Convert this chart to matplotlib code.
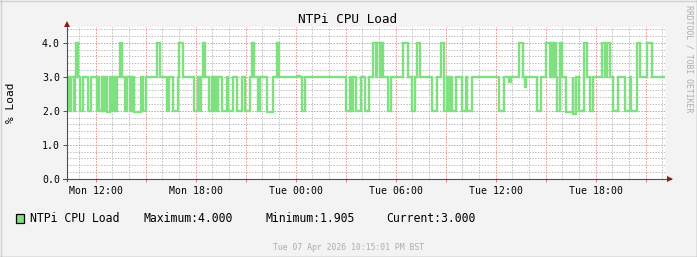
import matplotlib
matplotlib.use("Agg")
import matplotlib.pyplot as plt
from matplotlib.lines import Line2D
from matplotlib.patches import Rectangle

# ---------------- data (hours since Mon 00:00) ----------------
x_start = 10.28          # Mon 10:17
x_end = 46.16            # Tue 22:10
baseline_load = 3.0

event_start = [10.29, 10.46, 10.70, 10.79, 11.08, 11.54, 12.06, 12.20, 12.44, 12.68,
               12.98, 13.16, 13.43, 13.78, 14.06, 14.30, 14.84, 15.68, 16.28, 16.64,
               17.00, 17.90, 18.20, 18.44, 18.80, 19.04, 19.28, 19.58, 19.94, 20.48,
               20.96, 21.38, 21.74, 22.28, 22.88, 24.08, 24.38, 27.02, 27.32, 27.62,
               28.16, 28.64, 28.90, 29.10, 29.54, 30.44, 30.98, 31.28, 32.18, 32.72,
               32.90, 33.14, 33.38, 33.98, 34.28, 36.20, 36.80, 37.40, 37.76, 38.48,
               39.02, 39.32, 39.50, 39.68, 39.86, 40.22, 40.64, 41.00, 41.32, 41.66,
               42.38, 42.68, 43.04, 43.76, 44.12, 44.48, 45.08]
event_end = [10.34, 10.54, 10.78, 10.94, 11.22, 11.74, 12.14, 12.38, 12.56, 12.86,
             13.10, 13.28, 13.58, 13.88, 14.18, 14.72, 15.02, 15.86, 16.40, 16.94,
             17.24, 18.14, 18.32, 18.56, 18.98, 19.16, 19.34, 19.88, 20.24, 20.78,
             21.26, 21.50, 21.86, 22.64, 23.00, 24.26, 24.56, 27.26, 27.44, 27.92,
             28.40, 28.84, 29.04, 29.24, 29.72, 30.74, 31.16, 31.46, 32.48, 32.90,
             33.08, 33.26, 33.62, 34.22, 34.58, 36.50, 36.92, 37.64, 37.82, 38.72,
             39.26, 39.44, 39.64, 39.86, 39.98, 40.64, 40.82, 41.30, 41.48, 41.84,
             42.56, 42.86, 43.34, 44.06, 44.48, 44.66, 45.38]
event_value = [2.0, 2.0, 2.0, 4.0, 2.0, 2.0, 2.0, 2.0, 2.0, 1.97,
               2.0, 2.0, 4.0, 2.0, 2.0, 1.97, 2.0, 4.0, 2.0, 2.0,
               4.0, 2.0, 2.0, 4.0, 2.0, 2.0, 2.0, 2.0, 2.0, 2.0,
               2.0, 4.0, 2.0, 1.97, 4.0, 3.02, 2.0, 2.0, 2.0, 2.0,
               2.0, 4.0, 4.0, 4.0, 2.0, 4.0, 2.0, 4.0, 2.0, 4.0,
               2.0, 2.0, 2.0, 2.0, 2.0, 2.0, 2.85, 4.0, 2.7, 2.0,
               4.0, 4.0, 4.0, 2.0, 4.0, 1.95, 1.905, 2.0, 4.0, 2.0,
               4.0, 4.0, 2.0, 2.0, 2.0, 4.0, 4.0]

xtick_hours = [12, 18, 24, 30, 36, 42]
xtick_labels = ["Mon 12:00", "Mon 18:00", "Tue 00:00", "Tue 06:00", "Tue 12:00", "Tue 18:00"]
ytick_values = [0, 1, 2, 3, 4]
ytick_labels = ["0.0", "1.0", "2.0", "3.0", "4.0"]

series_name = "NTPi CPU Load"
stat_maximum = 4.000
stat_minimum = 1.905
stat_current = 3.000

# ---------------- build series ----------------
times = [x_start]
values = [baseline_load]
for s, e, v in zip(event_start, event_end, event_value):
    times += [s, e]
    values += [v, baseline_load]
times.append(x_end)
values.append(baseline_load)

# ---------------- figure ----------------
W, H = 697, 257
MONO = "DejaVu Sans Mono"
fig = plt.figure(figsize=(W / 100, H / 100), dpi=100)
fig.patch.set_facecolor("#F3F3F3")

ax_left, ax_right = 67, 665
ax_bottom_px, ax_top_px = 178.7, 27.4
ax = fig.add_axes([ax_left / W, 1 - ax_bottom_px / H,
                   (ax_right - ax_left) / W, (ax_bottom_px - ax_top_px) / H])
ax.set_facecolor("white")
ax.set_xlim(x_start, x_end)
ax.set_ylim(0, 4.45)

# grid
dot = (0, (1.4, 1.4))
grid_gray = "#BEBEBE"
grid_red = "#E89090"
h = 11
while h <= 46:
    if h % 3 != 0:
        ax.axvline(h, color=grid_gray, lw=0.72, ls=dot, zorder=1)
    h += 1
for i in range(1, 23):
    yv = i * 0.2
    if i % 5 != 0:
        ax.axhline(yv, color=grid_gray, lw=0.72, ls=dot, zorder=1)
for hh in range(12, 46, 3):
    ax.axvline(hh, color=grid_red, lw=0.72, ls=dot, zorder=1.5)
for yv in [1, 2, 3, 4]:
    ax.axhline(yv, color=grid_red, lw=0.72, ls=dot, zorder=1.5)

# data line
ax.plot(times, values, drawstyle="steps-post", color="#7EE07E", lw=1.7,
        solid_joinstyle="miter", zorder=3)

# axes styling
for sp in ax.spines.values():
    sp.set_visible(False)
axis_col = "#505050"
ax.set_xticks(list(range(12, 46, 3)))
ax.set_xticklabels([xtick_labels[xtick_hours.index(t)] if t in xtick_hours else ""
                    for t in range(12, 46, 3)])
ax.set_yticks(ytick_values)
ax.set_yticklabels(ytick_labels)
ax.tick_params(axis="x", length=2.5, width=0.7, color="#D08080", pad=3,
               labelsize=7.1, labelcolor="black")
ax.tick_params(axis="y", length=3, width=0.7, color=axis_col, pad=2,
               labelsize=7.1, labelcolor="black")
for lab in ax.get_xticklabels() + ax.get_yticklabels():
    lab.set_fontfamily(MONO)

# axis lines with arrows (pixel-based offsets converted to axes fraction)
axw = ax_right - ax_left
axh = ax_bottom_px - ax_top_px
ax.add_line(Line2D([-4 / axw, 1 + 6 / axw], [0, 0], transform=ax.transAxes,
                   color=axis_col, lw=0.8, clip_on=False, zorder=4))
ax.add_line(Line2D([0, 0], [-2 / axh, 1 + 4 / axh], transform=ax.transAxes,
                   color=axis_col, lw=0.8, clip_on=False, zorder=4))
ax.plot([1 + 5 / axw], [0], marker=">", ms=4.2, color="#8B1A1A",
        transform=ax.transAxes, clip_on=False, zorder=5, mew=0)
ax.plot([0], [1 + 3 / axh], marker="^", ms=4.2, color="#8B1A1A",
        transform=ax.transAxes, clip_on=False, zorder=5, mew=0)

# texts
fig.text(348 / W, 1 - 19.5 / H, series_name, ha="center", va="center",
         fontsize=9.2, family=MONO, color="black")
fig.text(10.5 / W, 1 - 103 / H, "% Load", rotation=90, ha="center", va="center",
         fontsize=8, family=MONO, color="black")
fig.text(688.5 / W, 1 - 5 / H, "RRDTOOL / TOBI OETIKER", rotation=-90,
         ha="center", va="top", fontsize=5.9, family=MONO, color="#ADADAD")

# legend
fig.add_artist(Rectangle((15.5 / W, 1 - 222.5 / H), 8.5 / W, 9 / H,
                         transform=fig.transFigure, facecolor="#7EE07E",
                         edgecolor="black", lw=0.9))
leg_y = 1 - 222.3 / H
fig.text(30 / W, leg_y, series_name, ha="left", va="baseline", fontsize=8.3, family=MONO)
fig.text(143.7 / W, leg_y, f"Maximum:{stat_maximum:.3f}", ha="left", va="baseline",
         fontsize=8.3, family=MONO)
fig.text(265 / W, leg_y, f"Minimum:{stat_minimum:.3f}", ha="left", va="baseline",
         fontsize=8.3, family=MONO)
fig.text(386 / W, leg_y, f"Current:{stat_current:.3f}", ha="left", va="baseline",
         fontsize=8.3, family=MONO)

fig.text(348.5 / W, 1 - 249.5 / H, "Tue 07 Apr 2026 10:15:01 PM BST", ha="center",
         va="baseline", fontsize=5.9, family=MONO, color="#ADADAD")

# outer frame (3D-ish shade)
fig.add_artist(Line2D([0.5 / W, 0.5 / W], [0, 1], transform=fig.transFigure,
                      color="#D0D0D0", lw=1))
fig.add_artist(Line2D([0, 1], [1 - 0.5 / H, 1 - 0.5 / H], transform=fig.transFigure,
                      color="#D0D0D0", lw=1))
fig.add_artist(Line2D([1 - 0.5 / W, 1 - 0.5 / W], [0, 1], transform=fig.transFigure,
                      color="#9C9C9C", lw=1))
fig.add_artist(Line2D([0, 1], [0.5 / H, 0.5 / H], transform=fig.transFigure,
                      color="#9C9C9C", lw=1))

fig.savefig("out.png", dpi=100, facecolor=fig.get_facecolor())
